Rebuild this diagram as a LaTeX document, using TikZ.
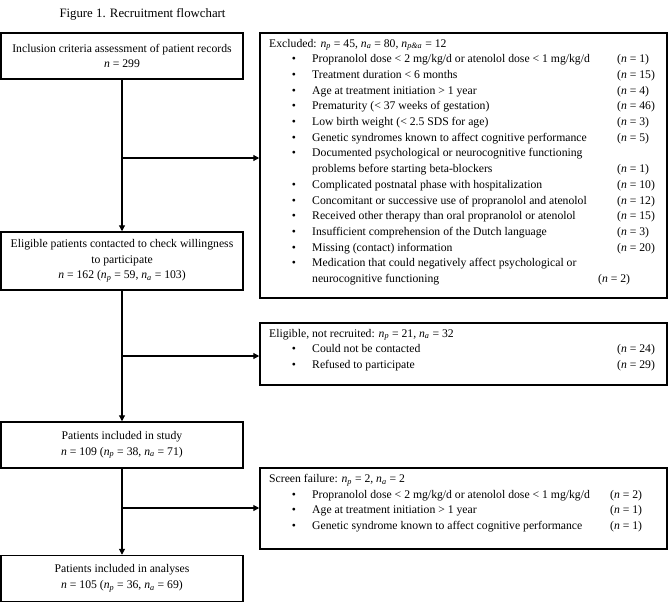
\documentclass[tikz,border=0pt]{standalone}
\usepackage{fontspec}
\setmainfont{Liberation Serif}
\usetikzlibrary{arrows.meta}
\newcommand{\nsub}[1]{\textit{n}\textsubscript{\textit{#1}}}
\newcommand{\nvar}{\textit{n}}
\newcommand{\fsz}{\fontsize{11.7}{15.7}\selectfont}
\begin{document}
\begin{tikzpicture}[x=1pt,y=-1pt,
  box/.style={draw, line width=1.5pt, inner sep=0pt},
  lbox/.style={box, minimum width=242pt, align=center, font=\fsz},
  txt/.style={anchor=base west, inner sep=0pt, font=\fsz},
  bul/.style={anchor=base, inner sep=0pt, font=\fsz},
  arr/.style={line width=1.2pt, -{Triangle[length=6pt,width=6pt]}}]
\useasboundingbox (0,0) rectangle (669,603);
\node[anchor=base, inner sep=0pt, font=\fontsize{12.8}{15}\selectfont] (title) at (142.5,17) {Figure 1. Recruitment flowchart};
% left boxes
\node[lbox, minimum height=46pt] (b1) at (122,56) {Inclusion criteria assessment of patient records\\ \nvar{} = 299};
\node[lbox, minimum height=58pt] (b2) at (122,261) {Eligible patients contacted to check willingness\\ to participate\\ \nvar{} = 162 (\nsub{p} = 59, \nsub{a} = 103)};
\node[lbox, minimum height=46pt] (b3) at (122,445) {Patients included in study\\ \nvar{} = 109 (\nsub{p} = 38, \nsub{a} = 71)};
\node[lbox, minimum height=46pt] (b4) at (122,578.5) {Patients included in analyses\\ \nvar{} = 105 (\nsub{p} = 36, \nsub{a} = 69)};
% right boxes
\node[box, minimum width=407pt, minimum height=265pt] (ex) at (463.5,165.5) {};
\node[box, minimum width=407pt, minimum height=62pt] (nr) at (463.5,354) {};
\node[box, minimum width=407pt, minimum height=81pt] (sf) at (463.5,508.5) {};
% connectors
\draw[arr] (b1.south) -- (b2.north);
\draw[arr] (b2.south) -- (b3.north);
\draw[arr] (b3.south) -- (b4.north);
\coordinate (j1) at (122,158);
\coordinate (j2) at (122,356);
\coordinate (j3) at (122,508);
\draw[arr] (j1) -- (j1 -| ex.west);
\draw[arr] (j2) -- (j2 -| nr.west);
\draw[arr] (j3) -- (j3 -| sf.west);
% excluded text
\node[txt] (e0) at (269,47) {Excluded: \nsub{p} = 45, \nsub{a} = 80, \nsub{p\&a} = 12};
\node[bul] (eb1) at (294,62.7) {\textbullet};
\node[txt] (et1) at (312,62.7) {Propranolol dose < 2 mg/kg/d or atenolol dose < 1 mg/kg/d};
\node[txt] (en1) at (617,62.7) {(\nvar{} = 1)};
\node[bul] (eb2) at (294,78.4) {\textbullet};
\node[txt] (et2) at (312,78.4) {Treatment duration < 6 months};
\node[txt] (en2) at (617,78.4) {(\nvar{} = 15)};
\node[bul] (eb3) at (294,94.1) {\textbullet};
\node[txt] (et3) at (312,94.1) {Age at treatment initiation > 1 year};
\node[txt] (en3) at (617,94.1) {(\nvar{} = 4)};
\node[bul] (eb4) at (294,109.8) {\textbullet};
\node[txt] (et4) at (312,109.8) {Prematurity (< 37 weeks of gestation)};
\node[txt] (en4) at (617,109.8) {(\nvar{} = 46)};
\node[bul] (eb5) at (294,125.5) {\textbullet};
\node[txt] (et5) at (312,125.5) {Low birth weight (< 2.5 SDS for age)};
\node[txt] (en5) at (617,125.5) {(\nvar{} = 3)};
\node[bul] (eb6) at (294,141.2) {\textbullet};
\node[txt] (et6) at (312,141.2) {Genetic syndromes known to affect cognitive performance};
\node[txt] (en6) at (617,141.2) {(\nvar{} = 5)};
\node[bul] (eb7) at (294,156.9) {\textbullet};
\node[txt] (et7) at (312,156.9) {Documented psychological or neurocognitive functioning};
\node[txt] (et7b) at (312,172.6) {problems before starting beta-blockers};
\node[txt] (en7) at (617,172.6) {(\nvar{} = 1)};
\node[bul] (eb8) at (294,188.3) {\textbullet};
\node[txt] (et8) at (312,188.3) {Complicated postnatal phase with hospitalization};
\node[txt] (en8) at (617,188.3) {(\nvar{} = 10)};
\node[bul] (eb9) at (294,204) {\textbullet};
\node[txt] (et9) at (312,204) {Concomitant or successive use of propranolol and atenolol};
\node[txt] (en9) at (617,204) {(\nvar{} = 12)};
\node[bul] (eb10) at (294,219.7) {\textbullet};
\node[txt] (et10) at (312,219.7) {Received other therapy than oral propranolol or atenolol};
\node[txt] (en10) at (617,219.7) {(\nvar{} = 15)};
\node[bul] (eb11) at (294,235.4) {\textbullet};
\node[txt] (et11) at (312,235.4) {Insufficient comprehension of the Dutch language};
\node[txt] (en11) at (617,235.4) {(\nvar{} = 3)};
\node[bul] (eb12) at (294,251.1) {\textbullet};
\node[txt] (et12) at (312,251.1) {Missing (contact) information};
\node[txt] (en12) at (617,251.1) {(\nvar{} = 20)};
\node[bul] (eb13) at (294,266.8) {\textbullet};
\node[txt] (et13) at (312,266.8) {Medication that could negatively affect psychological or};
\node[txt] (et13b) at (312,282.5) {neurocognitive functioning};
\node[txt] (en13) at (598,282.5) {(\nvar{} = 2)};
% not recruited
\node[txt] (r0) at (269,337) {Eligible, not recruited: \nsub{p} = 21, \nsub{a} = 32};
\node[bul] (rb1) at (294,352.7) {\textbullet};
\node[txt] (rt1) at (312,352.7) {Could not be contacted};
\node[txt] (rn1) at (617,352.7) {(\nvar{} = 24)};
\node[bul] (rb2) at (294,368.4) {\textbullet};
\node[txt] (rt2) at (312,368.4) {Refused to participate};
\node[txt] (rn2) at (617,368.4) {(\nvar{} = 29)};
% screen failure
\node[txt] (s0) at (269,482.5) {Screen failure: \nsub{p} = 2, \nsub{a} = 2};
\node[bul] (sb1) at (294,498.2) {\textbullet};
\node[txt] (st1) at (312,498.2) {Propranolol dose < 2 mg/kg/d or atenolol dose < 1 mg/kg/d};
\node[txt] (sn1) at (610,498.2) {(\nvar{} = 2)};
\node[bul] (sb2) at (294,513.9) {\textbullet};
\node[txt] (st2) at (312,513.9) {Age at treatment initiation > 1 year};
\node[txt] (sn2) at (610,513.9) {(\nvar{} = 1)};
\node[bul] (sb3) at (294,529.6) {\textbullet};
\node[txt] (st3) at (312,529.6) {Genetic syndrome known to affect cognitive performance};
\node[txt] (sn3) at (610,529.6) {(\nvar{} = 1)};
\end{tikzpicture}
\end{document}
